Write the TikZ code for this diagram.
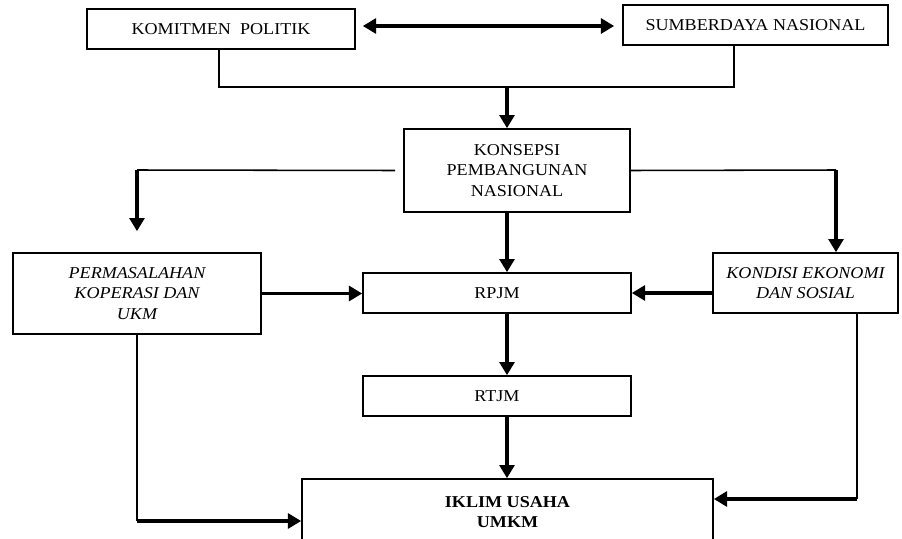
\documentclass[tikz,border=0pt]{standalone}
\usepackage{fontspec}
\setmainfont{Liberation Serif}[FakeStretch=1.09]
\usetikzlibrary{arrows.meta,calc}

\newcommand{\boxfont}{\fontsize{11.8}{14.5}\selectfont}

\begin{document}
\begin{tikzpicture}[x=0.025cm, y=-0.025cm,
    bighead/.tip={Triangle[length=0.33cm, width=0.37cm]},
    box/.style={draw, line width=1.1pt, align=center, inner sep=0pt, font=\boxfont},
    line/.style={line width=1.1pt},
    arr/.style={line width=2.4pt, -bighead},
    dbl/.style={line width=2.4pt, bighead-bighead}]

            \clip (0,0) rectangle (902,539);

            \node[box, minimum width=6.7cm, minimum height=1cm] (kom) at (221,29) {KOMITMEN\ \ POLITIK};
            \node[box, minimum width=6.625cm, minimum height=1cm] (sum) at (755.5,25) {SUMBERDAYA NASIONAL};
            \node[box, minimum width=5.65cm, minimum height=2.075cm] (kon) at (517,170.5) {KONSEPSI\\PEMBANGUNAN\\NASIONAL};

            \node[box, font=\boxfont\itshape, minimum width=6.2cm, minimum height=2.025cm] (per) at (137,293.5) {PERMASALAHAN\\KOPERASI DAN\\UKM};
            \node[box, minimum width=6.7cm, minimum height=1cm] (rpjm) at (497,293) {RPJM};
            \node[box, font=\boxfont\itshape, minimum width=4.625cm, minimum height=1.5cm] (kondisi) at (805.5,283) {KONDISI EKONOMI\\DAN SOSIAL};

            \node[box, minimum width=6.7cm, minimum height=1cm] (rtjm) at (497,396) {RTJM};
            \node[box, font=\boxfont\bfseries, minimum width=10.275cm, minimum height=1.65cm] (iklim) at (507.5,512) {IKLIM USAHA\\UMKM};

            \coordinate (join) at (507,87);
            \coordinate (lturn) at (137,170);
            \coordinate (rturn) at (836,170);
            \coordinate (lbot) at (137,521);
            \coordinate (rbot) at (857,499);

            \draw[dbl] ($(kom.east)+(7,-3)$) -- ($(sum.west)+(-8,1)$);

            \draw[line] ($(kom.south)+(-2,0)$) |- (join) -| ($(sum.south)+(-21.5,0)$);
            \draw[arr] (join) -- (join |- kon.north);

            \draw[line] ($(kon.west)+(-8,0)$) -- (lturn);
            \draw[arr] (lturn) -- ($(per.north)+(0,-21)$);
            \draw[line] (kon.east) -- (rturn);
            \draw[arr] (rturn) -- (rturn |- kondisi.north);

            \draw[arr] (join |- kon.south) -- (join |- rpjm.north);
            \draw[arr] (per.east) -- (per.east -| rpjm.west);
            \draw[arr] ($(kondisi.west)+(0,10)$) -- (rpjm.east);

            \draw[arr] (join |- rpjm.south) -- (join |- rtjm.north);
            \draw[arr] (join |- rtjm.south) -- (join |- iklim.north);

            \draw[line] (per.south) -- (lbot);
            \draw[arr] (lbot) -- (lbot -| iklim.west);
            \draw[line] (rbot |- kondisi.south) -- (rbot);
            \draw[arr] (rbot) -- (rbot -| iklim.east);
        \end{tikzpicture}
\end{document}
